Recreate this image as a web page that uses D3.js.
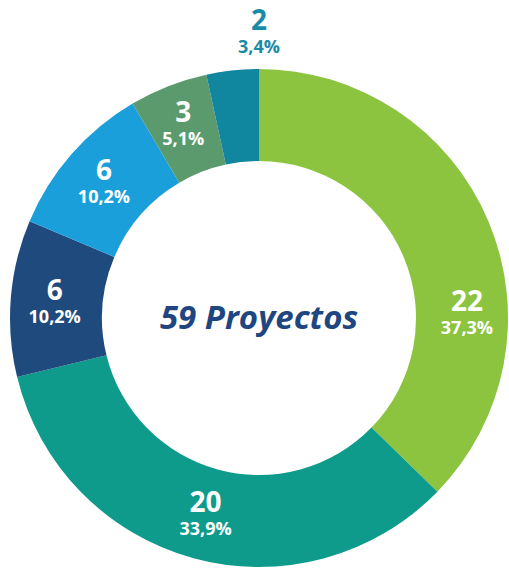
<!DOCTYPE html>
<html>
<head>
<meta charset="utf-8">
<script src="https://cdn.jsdelivr.net/npm/d3@7"></script>
<style>
  body { margin: 0; background: #fff; }
  svg { display: block; font-family: "Open Sans", sans-serif; }
</style>
</head>
<body>
<div id="chart"></div>
<script>
// data
const counts = [22, 20, 6, 6, 3, 2];
const percents = ["37,3%", "33,9%", "10,2%", "10,2%", "5,1%", "3,4%"];
const colors = ["#8cc43f", "#0e9b8b", "#1f4a7d", "#1b9fdb", "#5b9a6c", "#10869f"];
const centerLabel = "59 Proyectos";

// label placement (angle in degrees from top, null = arc centroid)
const labelAngle = [88.6, null, null, null, null, 0];
const labelRadius = [208, 203, 205, 206, 208, 286];

const width = 509, height = 568;
const cx = 259, cy = 318;
const outerR = 249, innerR = 157;

const svg = d3.select("#chart").append("svg")
    .attr("width", width)
    .attr("height", height);

const g = svg.append("g")
    .attr("transform", `translate(${cx},${cy})`);

const pie = d3.pie().sort(null).value(d => d);
const arc = d3.arc().innerRadius(innerR).outerRadius(outerR);

const arcs = pie(counts);

g.selectAll("path")
    .data(arcs)
    .enter().append("path")
    .attr("d", arc)
    .attr("fill", (d, i) => colors[i]);

const labels = g.selectAll("g.lbl")
    .data(arcs)
    .enter().append("g")
    .attr("class", "lbl")
    .attr("transform", (d, i) => {
        const a = labelAngle[i] != null ? labelAngle[i] * Math.PI / 180 : (d.startAngle + d.endAngle) / 2;
        const r = labelRadius[i];
        return `translate(${r * Math.sin(a)},${-r * Math.cos(a)})`;
    });

labels.append("text")
    .attr("text-anchor", "middle")
    .attr("y", -2)
    .attr("font-size", 28)
    .attr("font-weight", 700)
    .attr("fill", (d, i) => i === 5 ? "#1a8ba6" : "#fff")
    .text((d, i) => counts[i]);

labels.append("text")
    .attr("text-anchor", "middle")
    .attr("y", 21)
    .attr("font-size", 18)
    .attr("font-weight", 700)
    .attr("fill", (d, i) => i === 5 ? "#1a8ba6" : "#fff")
    .text((d, i) => percents[i]);

g.append("text")
    .attr("text-anchor", "middle")
    .attr("y", 11)
    .attr("font-size", 33)
    .attr("font-weight", 700)
    .attr("font-style", "italic")
    .attr("fill", "#1f4680")
    .text(centerLabel);
</script>
</body>
</html>
